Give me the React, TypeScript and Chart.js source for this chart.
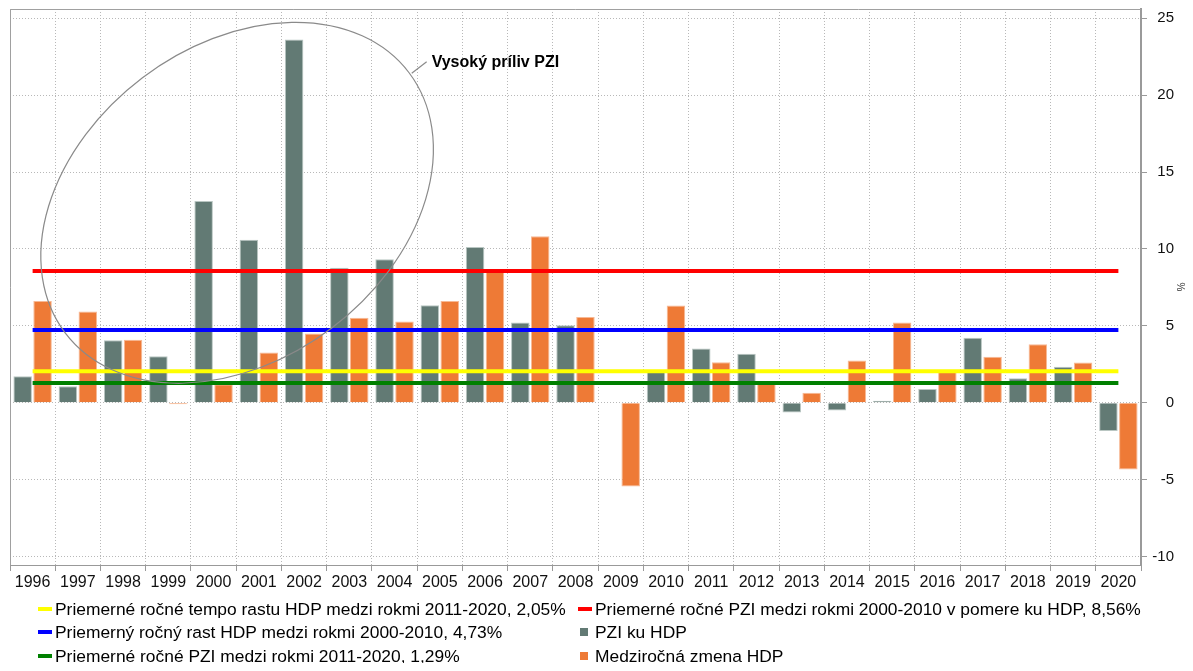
import React, { useEffect, useRef } from 'react';
import { Chart, registerables } from 'chart.js';

Chart.register(...registerables);

const years = ['1996', '1997', '1998', '1999', '2000', '2001', '2002', '2003', '2004', '2005', '2006', '2007', '2008', '2009', '2010', '2011', '2012', '2013', '2014', '2015', '2016', '2017', '2018', '2019', '2020'];
const pziKuHdp = [1.73, 1.08, 4.07, 3.03, 13.12, 10.6, 23.62, 8.77, 9.33, 6.34, 10.13, 5.21, 5.04, null, 2.0, 3.53, 3.18, -0.63, -0.5, 0.13, 0.89, 4.22, 1.6, 2.34, -1.84];
const medzirocnaZmenaHdp = [6.62, 5.93, 4.09, -0.1, 1.2, 3.27, 4.5, 5.52, 5.28, 6.62, 8.5, 10.82, 5.58, -5.45, 6.33, 2.64, 1.4, 0.65, 2.75, 5.21, 2.05, 2.99, 3.81, 2.62, -4.34];
const avgHdp2011_2020 = 2.05;
const avgPzi2000_2010 = 8.56;
const avgHdp2000_2010 = 4.73;
const avgPzi2011_2020 = 1.29;
const yTicks = [-10, -5, 0, 5, 10, 15, 20, 25];

const labelYellow = 'Priemerné ročné tempo rastu HDP medzi rokmi 2011-2020, 2,05%';
const labelRed = 'Priemerné ročné PZI medzi rokmi 2000-2010 v pomere ku HDP, 8,56%';
const labelBlue = 'Priemerný ročný rast HDP medzi rokmi 2000-2010, 4,73%';
const labelGrey = 'PZI ku HDP';
const labelGreen = 'Priemerné ročné PZI medzi rokmi 2011-2020, 1,29%';
const labelOrange = 'Medziročná zmena HDP';
const annotationText = 'Vysoký príliv PZI';
const yAxisTitle = '%';

const FONT = '"Liberation Sans", Arial, Helvetica, sans-serif';
const GREY = '#627A74';
const ORANGE = '#EE7A36';

const avgLine = (v: number) => [
  { x: years[0], y: v },
  { x: years[years.length - 1], y: v },
];

const legendItems = [
  { label: labelYellow, color: '#FFFF00', kind: 'line' },
  { label: labelRed, color: '#FF0000', kind: 'line' },
  { label: labelBlue, color: '#0000FF', kind: 'line' },
  { label: labelGrey, color: GREY, kind: 'box' },
  { label: labelGreen, color: '#008000', kind: 'line' },
  { label: labelOrange, color: ORANGE, kind: 'box' },
];

const decorPlugin = {
  id: 'decor',
  beforeDatasetsDraw(chart: any) {
    const { ctx, chartArea: a } = chart;
    ctx.save();
    ctx.strokeStyle = '#a0a0a0';
    ctx.lineWidth = 1;
    ctx.beginPath();
    ctx.moveTo(a.left + 0.5, a.bottom);
    ctx.lineTo(a.left + 0.5, a.top + 0.5);
    ctx.lineTo(a.right, a.top + 0.5);
    ctx.stroke();
    ctx.restore();
  },
  afterDatasetsDraw(chart: any) {
    const { ctx, chartArea: a } = chart;
    const xs = chart.scales.x;
    const ys = chart.scales.y;
    const cx = xs.getPixelForValue(4.52);
    const cy = ys.getPixelForValue(13.0);
    ctx.save();
    ctx.strokeStyle = '#8a8a8a';
    ctx.lineWidth = 1.2;
    ctx.beginPath();
    ctx.ellipse(cx, cy, 215.6, 156.9, (-37.1 * Math.PI) / 180, 0, Math.PI * 2);
    ctx.stroke();
    const x1 = xs.getPixelForValue(8.38);
    const y1 = ys.getPixelForValue(21.42);
    const x2 = xs.getPixelForValue(8.71);
    const y2 = ys.getPixelForValue(22.17);
    ctx.beginPath();
    ctx.moveTo(x1, y1);
    ctx.lineTo(x2, y2);
    ctx.stroke();
    ctx.fillStyle = '#000';
    ctx.font = 'bold 16px ' + FONT;
    ctx.textBaseline = 'alphabetic';
    ctx.textAlign = 'left';
    ctx.fillText(annotationText, xs.getPixelForValue(8.82), ys.getPixelForValue(21.8));
    ctx.translate(chart.width - 5, (a.top + a.bottom) / 2);
    ctx.rotate(Math.PI / 2);
    ctx.font = '10px ' + FONT;
    ctx.fillStyle = '#333';
    ctx.textAlign = 'center';
    ctx.textBaseline = 'middle';
    ctx.fillText(yAxisTitle, 0, 0);
    ctx.restore();
  },
};

export default function App() {
  const ref = useRef<HTMLCanvasElement | null>(null);

  useEffect(() => {
    document.documentElement.style.overflow = 'hidden';
    const canvas = ref.current;
    if (!canvas) return;
    const lineDs = (label: string, color: string, v: number) => ({
      type: 'line' as const,
      label,
      data: avgLine(v),
      borderColor: color,
      backgroundColor: color,
      borderWidth: 4,
      pointRadius: 0,
      borderCapStyle: 'butt' as const,
      order: 0,
      fill: false,
    });
    const chart = new Chart(canvas, {
      type: 'bar',
      data: {
        labels: years,
        datasets: [
          lineDs(labelYellow, '#FFFF00', avgHdp2011_2020),
          lineDs(labelRed, '#FF0000', avgPzi2000_2010),
          lineDs(labelBlue, '#0000FF', avgHdp2000_2010),
          {
            type: 'bar',
            label: labelGrey,
            data: pziKuHdp,
            backgroundColor: GREY,
            borderColor: '#b9c6c2',
            borderWidth: 1,
            barPercentage: 0.93,
            categoryPercentage: 0.88,
            order: 1,
          },
          lineDs(labelGreen, '#008000', avgPzi2011_2020),
          {
            type: 'bar',
            label: labelOrange,
            data: medzirocnaZmenaHdp,
            backgroundColor: ORANGE,
            borderColor: '#f7b995',
            borderWidth: 1,
            barPercentage: 0.93,
            categoryPercentage: 0.88,
            order: 1,
          },
        ] as any,
      },
      options: {
        responsive: false,
        maintainAspectRatio: false,
        animation: false,
        layout: { padding: { left: 2, top: 1, right: 11, bottom: 0 } },
        plugins: { legend: { display: false }, tooltip: { enabled: false } },
        scales: {
          x: {
            type: 'category',
            offset: true,
            grid: {
              offset: true,
              color: '#b8b8b8',
              lineWidth: 1,
              tickLength: 6,
              tickColor: '#999',
              tickBorderDash: [],
              drawTicks: true,
            },
            border: { display: true, color: '#999', width: 1, dash: [1, 2] },
            ticks: {
              autoSkip: false,
              maxRotation: 0,
              minRotation: 0,
              padding: 2,
              color: '#111',
              font: { family: FONT, size: 16 },
            },
            afterFit: (s: any) => {
              s.height = 35;
              s.paddingLeft = 0;
              s.paddingRight = 0;
            },
          },
          y: {
            type: 'linear',
            position: 'right',
            min: -10.55,
            max: 25.6,
            afterBuildTicks: (s: any) => {
              s.ticks = yTicks.map((v) => ({ value: v }));
            },
            grid: {
              color: '#b8b8b8',
              lineWidth: 1,
              tickLength: 6,
              tickColor: '#999',
              tickBorderDash: [],
            },
            border: { display: true, color: '#9a9a9a', width: 2, dash: [1, 2] },
            ticks: {
              crossAlign: 'far',
              padding: 5,
              color: '#111',
              font: { family: FONT, size: 15 },
            },
            title: { display: false },
            afterFit: (s: any) => {
              s.width = 33;
              s.paddingTop = 0;
              s.paddingBottom = 0;
            },
          },
        },
      } as any,
      plugins: [decorPlugin],
    });
    return () => chart.destroy();
  }, []);

  return (
    <div style={{ width: 1177, height: 655, position: 'relative' }}>
      <canvas ref={ref} width={1177} height={592} style={{ display: 'block' }} />
      <div
        style={{
          position: 'absolute',
          left: 30,
          top: 589,
          display: 'grid',
          gridTemplateColumns: '540px auto',
          fontFamily: FONT,
          fontSize: 17.4,
          lineHeight: '20px',
          color: '#000',
        }}
      >
        {legendItems.map((it) => (
          <div key={it.label} style={{ height: 23.5, display: 'flex', alignItems: 'center', whiteSpace: 'nowrap' }}>
            <span style={{ width: 14, height: 14, position: 'relative', marginRight: 3, flex: 'none' }}>
              {it.kind === 'line' ? (
                <span style={{ position: 'absolute', left: 0, top: 5, width: 14, height: 4, background: it.color }} />
              ) : (
                <span style={{ position: 'absolute', left: 2, top: 3, width: 8, height: 8, background: it.color }} />
              )}
            </span>
            <span>{it.label}</span>
          </div>
        ))}
      </div>
    </div>
  );
}
